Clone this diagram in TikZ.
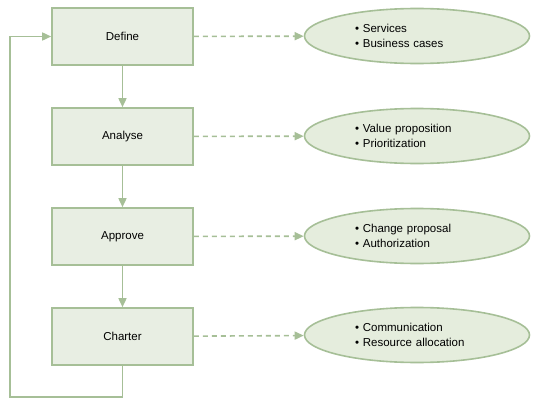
\documentclass[tikz,border=0pt]{standalone}
\usepackage{fontspec}
\setmainfont{Liberation Sans}
\usetikzlibrary{arrows.meta,shapes.geometric}
\definecolor{lgreen}{HTML}{A6BF97}
\definecolor{boxfill}{HTML}{E8EEE3}
\definecolor{ellfill}{HTML}{E5EDDD}
\tikzset{
  stepbox/.style={draw=lgreen,line width=1.6pt,fill=boxfill,minimum width=141pt,minimum height=57pt,font=\fontsize{11.5}{15}\selectfont},
  outell/.style={ellipse,draw=lgreen,line width=1.6pt,fill=ellfill,minimum width=225pt,minimum height=55pt,inner sep=0pt,
    text width=124pt,align=left,font=\fontsize{11.5}{15}\selectfont},
  flow/.style={draw=lgreen,line width=1.6pt,-{Triangle[length=9pt,width=8pt]}},
  dflow/.style={flow,dashed,dash pattern=on 5pt off 4pt}
}
\begin{document}
\begin{tikzpicture}[x=1pt,y=-1pt]
         \useasboundingbox (0,0) rectangle (555,407) ;
         % steps on the left
         \node[stepbox] (define) at (122.5,36.5) {Define} ;
         \node[stepbox] (analyse) at (122.5,136.5) {Analyse} ;
         \node[stepbox] (approve) at (122.5,236.5) {Approve} ;
         \node[stepbox] (charter) at (122.5,336.5) {Charter} ;
         % outputs on the right
         \node[outell] (services) at (417,36) {\textbullet\ Services\\\textbullet\ Business cases} ;
         \node[outell] (value) at (417,136) {\textbullet\ Value proposition\\\textbullet\ Prioritization} ;
         \node[outell] (change) at (417,236) {\textbullet\ Change proposal\\\textbullet\ Authorization} ;
         \node[outell] (comm) at (417,335) {\textbullet\ Communication\\\textbullet\ Resource allocation} ;
         % flow down
         \draw[flow] (define) -- (analyse) ;
         \draw[flow] (analyse) -- (approve) ;
         \draw[flow] (approve) -- (charter) ;
         % dashed links
         \draw[dflow] (define) -- (services) ;
         \draw[dflow] (analyse) -- (value) ;
         \draw[dflow] (approve) -- (change) ;
         \draw[dflow] (charter) -- (comm) ;
         % loop back
         \coordinate (loopa) at (122.5,397) ;
         \coordinate (loopb) at (10,397) ;
         \coordinate (loopc) at (10,36.5) ;
         \draw[flow] (charter.south) -- (loopa) -- (loopb) -- (loopc) -- (define.west) ;
      \end{tikzpicture}
\end{document}
